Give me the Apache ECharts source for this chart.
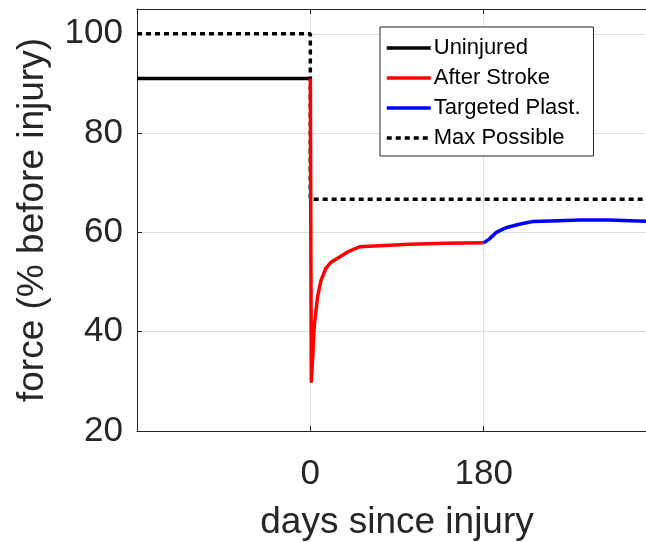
<!DOCTYPE html>
<html>
<head>
<meta charset="utf-8">
<script src="https://cdn.jsdelivr.net/npm/echarts@6/dist/echarts.min.js"></script>
<style>html,body{margin:0;padding:0;background:#fff;}#c{width:646px;height:542px;}</style>
</head>
<body>
<div id="c"></div>
<script>
// Data
const xTickLabels = [0, 180];
const yTickLabels = [20, 40, 60, 80, 100];
const uninjured = [[-180, 91], [0, 91]];
const afterStroke = [[0, 91], [1, 30], [2.5, 35], [4, 41], [7.5, 47], [11, 50.3], [16, 52.7], [21.5, 54], [30, 55], [40, 56.2], [51, 57.1], [72, 57.3], [103, 57.6], [140, 57.8], [180, 57.9]];
const targetedPlast = [[180, 57.9], [186, 58.7], [193, 60.0], [204, 61.0], [218, 61.7], [231, 62.2], [249, 62.3], [280, 62.5], [310, 62.5], [340, 62.3], [360, 62.2]];
const maxPossible = [[-180, 100], [0, 100], [0, 66.7], [360, 66.7]];

const FONT = 'Liberation Sans, Arial, Helvetica, sans-serif';
const AX = '#262626';
const chart = echarts.init(document.getElementById('c'));
chart.setOption({
  animation: false,
  backgroundColor: '#fff',
  grid: { left: 137, top: 9, width: 520, height: 422, containLabel: false, outerBoundsMode: 'none' },
  legend: {
    orient: 'vertical',
    left: 380, top: 27,
    padding: [10, 13, 7, 5],
    itemWidth: 44, itemHeight: 14, itemGap: 8,
    borderColor: AX, borderWidth: 1,
    backgroundColor: '#fff',
    itemStyle: { opacity: 0 },
    lineStyle: { width: 3.5 },
    textStyle: { fontFamily: FONT, fontSize: 22, color: '#000', lineHeight: 22, padding: [0, 0, 0, -2] },
    data: ['Uninjured', 'After Stroke', 'Targeted Plast.', 'Max Possible']
  },
  xAxis: [{
    type: 'value', min: -180, max: 360, interval: 180,
    name: 'days since injury', nameLocation: 'middle', nameGap: 73,
    nameTextStyle: { fontFamily: FONT, fontSize: 37, color: AX },
    axisLine: { show: true, onZero: false, lineStyle: { color: AX, width: 1 } },
    axisTick: { show: true, inside: true, length: 5, lineStyle: { color: AX } },
    axisLabel: { fontFamily: FONT, fontSize: 35, color: AX, margin: 26,
      formatter: v => (xTickLabels.indexOf(v) >= 0 ? String(v) : '') },
    splitLine: { show: true, lineStyle: { color: '#dedede', width: 1 } }
  }, {
    type: 'value', position: 'top', min: -180, max: 360, interval: 180,
    axisLine: { show: true, onZero: false, lineStyle: { color: AX, width: 1 } },
    axisTick: { show: true, inside: true, length: 5, lineStyle: { color: AX } },
    axisLabel: { show: false }, splitLine: { show: false }
  }],
  yAxis: {
    type: 'value', min: 20, max: 105, interval: 20,
    name: 'force (% before injury)', nameLocation: 'middle', nameGap: 86,
    nameTextStyle: { fontFamily: FONT, fontSize: 37, color: AX },
    axisLine: { show: true, onZero: false, lineStyle: { color: AX, width: 1 } },
    axisTick: { show: true, inside: true, length: 5, lineStyle: { color: AX } },
    axisLabel: { fontFamily: FONT, fontSize: 35, color: AX, margin: 14, showMaxLabel: false,
      formatter: v => (yTickLabels.indexOf(v) >= 0 ? String(v) : '') },
    splitLine: { show: true, lineStyle: { color: '#dedede', width: 1 } }
  },
  series: [
    { name: 'Uninjured', type: 'line', data: uninjured, symbol: 'none', color: '#000',
      lineStyle: { color: '#000', width: 3.5 }, z: 3 },
    { name: 'Max Possible', type: 'line', data: maxPossible, symbol: 'none', color: '#000',
      lineStyle: { color: '#000', width: 3.5, type: [5, 4] }, z: 2 },
    { name: 'After Stroke', type: 'line', data: afterStroke, symbol: 'none', color: '#ff0000',
      lineStyle: { color: '#ff0000', width: 3.5, join: 'round' }, z: 4 },
    { name: 'Targeted Plast.', type: 'line', data: targetedPlast, symbol: 'none', color: '#0000ff',
      lineStyle: { color: '#0000ff', width: 3.5, join: 'round' }, z: 4 }
  ]
});
</script>
</body>
</html>
